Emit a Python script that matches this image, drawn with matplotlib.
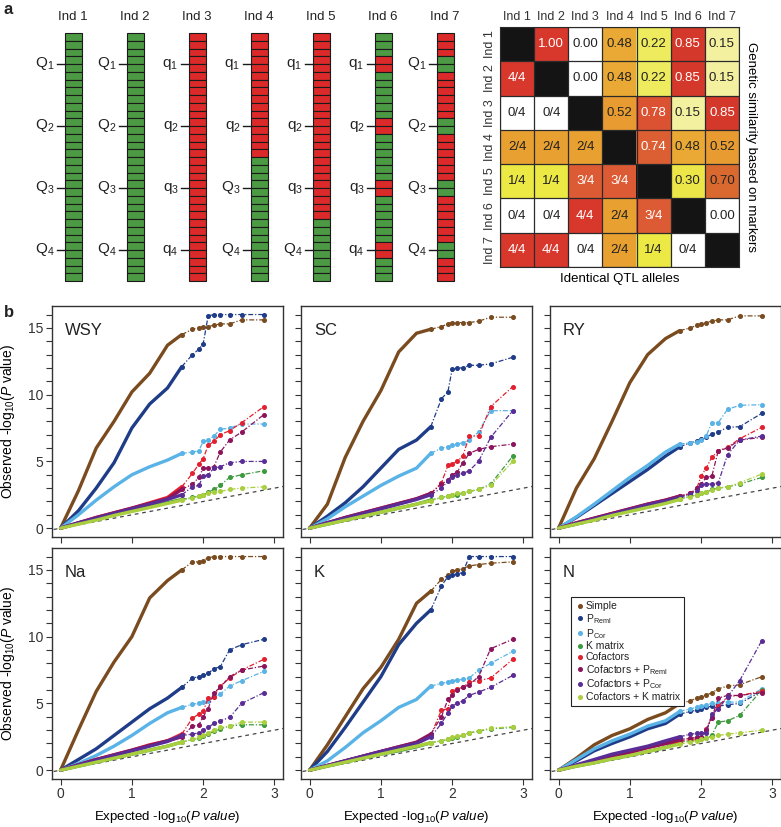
"""QTL allele illustration (a) and QQ plots of GWAS models per trait (b)."""

import matplotlib as mpl
import matplotlib.pyplot as plt
import numpy as np
from matplotlib.colors import LinearSegmentedColormap
from matplotlib.lines import Line2D

W, H = 781, 827

# ---- panel a: chromosomes ------------------------------------------------
INDIVIDUALS = ["Ind 1", "Ind 2", "Ind 3", "Ind 4", "Ind 5", "Ind 6", "Ind 7"]
# 32 marker segments per chromosome, G = green allele, R = red allele
CHROMOSOMES = [
    "G" * 32,
    "G" * 32,
    "R" * 32,
    "R" * 16 + "G" * 16,
    "R" * 24 + "G" * 8,
    "GGGRRGGG" * 4,
    "RRRGGRRR" * 4,
]
QTL_LABELS = [
    ["Q", "Q", "Q", "Q"],
    ["Q", "Q", "Q", "Q"],
    ["q", "q", "q", "q"],
    ["q", "q", "Q", "Q"],
    ["q", "q", "q", "Q"],
    ["q", "q", "q", "q"],
    ["Q", "Q", "Q", "Q"],
]
QTL_POS = [4, 12, 20, 28]

# similarity (upper triangle) and identical QTL alleles out of 4 (lower)
MARKER_SIM = [
    [None, 1.00, 0.00, 0.48, 0.22, 0.85, 0.15],
    [None, None, 0.00, 0.48, 0.22, 0.85, 0.15],
    [None, None, None, 0.52, 0.78, 0.15, 0.85],
    [None, None, None, None, 0.74, 0.48, 0.52],
    [None, None, None, None, None, 0.30, 0.70],
    [None, None, None, None, None, None, 0.00],
]
QTL_SHARED = [
    [4],
    [0, 0],
    [2, 2, 2],
    [1, 1, 3, 3],
    [0, 0, 4, 2, 3],
    [4, 4, 0, 2, 1, 0],
]

# ---- panel b: QQ plots ---------------------------------------------------
SERIES = ["Simple", "P$_{\\mathregular{Reml}}$", "P$_{\\mathregular{Cor}}$",
          "K matrix", "Cofactors", "Cofactors + P$_{\\mathregular{Reml}}$",
          "Cofactors + P$_{\\mathregular{Cor}}$", "Cofactors + K matrix"]
COLORS = ["#7a4b1f", "#1f3c88", "#5ab3e6", "#3d9a3d", "#e3202f",
          "#8c145c", "#5a2d96", "#a9cf3e"]

EXPECTED = [0, 0.25, 0.5, 0.75, 1.0, 1.25, 1.5, 1.7, 1.85, 1.94, 2.0, 2.07,
            2.15, 2.24, 2.37, 2.54, 2.85]

WSY = [
    [0, 2.8, 6.0, 8.0, 10.2, 11.6, 13.7, 14.5, 14.9, 15.0, 15.1, 15.1, 15.2, 15.3, 15.3, 15.6, 15.6],
    [0, 1.3, 3.0, 4.9, 7.5, 9.3, 10.5, 12.1, 13.0, 13.4, 13.8, 15.9, 16.0, 16.0, 16.0, 16.0, 16.0],
    [0, 1.0, 2.1, 3.1, 4.0, 4.6, 5.1, 5.6, 5.7, 5.8, 6.5, 6.6, 6.9, 7.4, 7.5, 7.8, 7.8],
    [0, 0.35, 0.7, 1.0, 1.3, 1.6, 1.9, 2.15, 2.3, 2.4, 2.5, 2.7, 2.9, 3.2, 3.8, 4.0, 4.3],
    [0, 0.4, 0.8, 1.15, 1.5, 1.9, 2.3, 3.1, 4.1, 4.8, 5.2, 6.2, 6.5, 7.0, 7.3, 7.9, 9.1],
    [0, 0.4, 0.8, 1.15, 1.5, 1.85, 2.2, 2.9, 3.3, 3.8, 4.5, 4.5, 4.6, 5.7, 6.6, 7.2, 8.5],
    [0, 0.4, 0.75, 1.1, 1.45, 1.8, 2.15, 2.5, 3.1, 3.2, 3.9, 4.0, 4.5, 4.6, 4.9, 5.0, 5.0],
    [0, 0.3, 0.6, 0.95, 1.25, 1.55, 1.85, 2.1, 2.25, 2.4, 2.5, 2.6, 2.7, 2.75, 2.9, 3.0, 3.1],
]
SC = [
    [0, 1.8, 5.3, 8.0, 10.3, 13.2, 14.6, 14.9, 15.1, 15.3, 15.4, 15.4, 15.4, 15.4, 15.5, 15.8, 15.8],
    [0, 0.9, 1.9, 3.1, 4.5, 5.9, 6.6, 7.6, 9.7, 10.2, 11.9, 12.0, 12.0, 12.2, 12.2, 12.3, 12.8],
    [0, 0.7, 1.6, 2.4, 3.2, 3.9, 4.5, 5.6, 6.0, 6.1, 6.2, 6.3, 6.4, 6.6, 7.2, 8.8, 8.8],
    [0, 0.3, 0.6, 0.9, 1.2, 1.5, 1.8, 2.1, 2.3, 2.4, 2.45, 2.5, 2.6, 2.75, 2.9, 3.3, 5.4],
    [0, 0.4, 0.8, 1.15, 1.5, 1.85, 2.2, 2.6, 3.4, 4.7, 4.8, 5.0, 5.4, 6.9, 6.9, 9.1, 10.6],
    [0, 0.4, 0.8, 1.15, 1.5, 1.85, 2.2, 2.6, 3.3, 3.6, 4.0, 4.2, 4.9, 5.6, 5.9, 6.1, 6.3],
    [0, 0.4, 0.75, 1.1, 1.45, 1.8, 2.15, 2.5, 3.0, 3.5, 3.8, 4.0, 4.1, 4.3, 5.0, 6.8, 8.8],
    [0, 0.3, 0.6, 0.9, 1.2, 1.5, 1.8, 2.05, 2.3, 2.4, 2.5, 2.6, 2.65, 2.75, 2.9, 3.2, 5.0],
]
RY = [
    [0, 3.0, 5.2, 8.0, 10.9, 13.0, 14.2, 14.8, 15.0, 15.2, 15.3, 15.4, 15.5, 15.6, 15.6, 15.9, 15.9],
    [0, 0.8, 1.7, 2.6, 3.5, 4.4, 5.4, 6.1, 6.4, 6.5, 6.7, 6.8, 7.05, 7.2, 7.55, 7.6, 8.6],
    [0, 0.85, 1.8, 2.8, 3.8, 4.7, 5.7, 6.3, 6.4, 6.45, 6.6, 6.9, 7.9, 7.9, 8.9, 9.2, 9.25],
    [0, 0.3, 0.65, 1.0, 1.3, 1.6, 1.9, 2.2, 2.4, 2.5, 2.6, 2.7, 2.9, 3.0, 3.1, 3.3, 3.8],
    [0, 0.4, 0.75, 1.1, 1.45, 1.8, 2.1, 2.4, 2.6, 3.0, 3.9, 4.5, 5.3, 5.8, 6.05, 6.7, 7.55],
    [0, 0.4, 0.75, 1.1, 1.45, 1.8, 2.1, 2.4, 2.6, 3.0, 3.3, 3.8, 3.9, 5.8, 6.0, 6.6, 6.8],
    [0, 0.35, 0.7, 1.05, 1.4, 1.75, 2.05, 2.3, 2.55, 2.8, 3.2, 3.3, 3.3, 3.4, 5.5, 6.6, 6.9],
    [0, 0.3, 0.6, 0.95, 1.25, 1.55, 1.85, 2.15, 2.35, 2.5, 2.6, 2.7, 2.85, 3.0, 3.1, 3.4, 4.05],
]
NA = [
    [0, 3.0, 5.9, 8.1, 10.0, 12.9, 14.2, 15.0, 15.6, 15.6, 15.7, 15.9, 16.0, 16.0, 16.0, 16.0, 16.0],
    [0, 0.8, 1.6, 2.6, 3.6, 4.6, 5.4, 6.2, 6.9, 7.0, 7.1, 7.25, 7.6, 7.75, 9.0, 9.4, 9.8],
    [0, 0.5, 1.1, 1.8, 2.6, 3.5, 4.3, 4.7, 4.95, 5.0, 5.1, 5.2, 5.5, 5.7, 6.3, 6.7, 7.4],
    [0, 0.3, 0.6, 0.9, 1.2, 1.5, 1.8, 2.1, 2.3, 2.4, 2.55, 2.7, 2.9, 3.1, 3.3, 3.4, 3.4],
    [0, 0.4, 0.8, 1.15, 1.5, 1.9, 2.2, 2.7, 3.9, 4.2, 4.4, 5.4, 5.5, 6.3, 6.9, 7.5, 8.3],
    [0, 0.4, 0.8, 1.15, 1.5, 1.85, 2.2, 2.5, 3.3, 3.4, 4.0, 4.6, 5.8, 6.2, 7.0, 7.5, 7.8],
    [0, 0.4, 0.75, 1.1, 1.45, 1.8, 2.15, 2.6, 2.7, 2.8, 3.0, 3.2, 3.5, 3.7, 3.95, 5.0, 5.8],
    [0, 0.3, 0.6, 0.9, 1.2, 1.5, 1.8, 2.1, 2.3, 2.45, 2.6, 2.75, 3.0, 3.2, 3.3, 3.6, 3.6],
]
K = [
    [0, 1.9, 4.0, 6.1, 7.7, 9.8, 12.5, 13.4, 14.3, 14.6, 14.9, 15.0, 15.1, 15.3, 15.4, 15.5, 15.6],
    [0, 1.4, 3.2, 5.1, 7.0, 9.4, 11.0, 12.0, 13.8, 14.5, 14.6, 14.7, 14.8, 16.0, 16.0, 16.0, 16.0],
    [0, 0.7, 1.7, 2.8, 3.7, 4.7, 5.3, 6.3, 6.5, 6.6, 6.7, 6.75, 6.8, 6.9, 7.5, 8.0, 8.9],
    [0, 0.3, 0.6, 0.9, 1.2, 1.45, 1.75, 2.05, 2.2, 2.3, 2.4, 2.5, 2.6, 2.8, 2.9, 3.1, 3.2],
    [0, 0.35, 0.7, 1.05, 1.4, 1.75, 2.05, 2.6, 4.5, 4.6, 5.9, 6.1, 6.2, 6.6, 6.7, 6.9, 8.3],
    [0, 0.35, 0.7, 1.05, 1.4, 1.75, 2.1, 2.7, 4.0, 5.3, 5.6, 6.0, 6.2, 6.4, 7.0, 9.1, 9.8],
    [0, 0.35, 0.7, 1.05, 1.4, 1.7, 2.0, 2.5, 3.5, 4.3, 4.8, 5.0, 5.2, 5.6, 5.85, 6.2, 7.1],
    [0, 0.3, 0.6, 0.9, 1.2, 1.5, 1.8, 2.05, 2.2, 2.3, 2.45, 2.55, 2.65, 2.8, 2.95, 3.15, 3.25],
]
N = [
    [0, 0.9, 1.9, 2.6, 3.1, 3.8, 4.3, 5.0, 5.2, 5.4, 5.5, 5.6, 5.8, 6.1, 6.3, 6.4, 7.0],
    [0, 0.7, 1.45, 2.0, 2.5, 3.1, 3.5, 4.2, 4.4, 4.5, 4.6, 4.7, 4.8, 4.8, 4.9, 5.0, 5.9],
    [0, 0.8, 1.6, 2.2, 2.7, 3.3, 3.7, 4.4, 4.6, 4.7, 4.8, 4.9, 5.0, 5.0, 5.1, 5.1, 6.1],
    [0, 0.3, 0.55, 0.85, 1.1, 1.4, 1.7, 2.1, 2.2, 2.3, 2.35, 2.4, 2.6, 3.6, 3.7, 4.1, 6.0],
    [0, 0.35, 0.7, 1.05, 1.35, 1.7, 2.0, 2.2, 2.3, 2.35, 2.4, 3.1, 4.0, 4.8, 5.5, 5.6, 5.9],
    [0, 0.35, 0.7, 1.05, 1.35, 1.7, 2.0, 2.3, 2.4, 2.45, 2.5, 3.0, 3.9, 5.4, 5.6, 5.6, 5.8],
    [0, 0.4, 0.8, 1.2, 1.5, 1.8, 2.2, 2.5, 2.7, 2.75, 2.8, 2.8, 4.2, 4.6, 5.5, 6.7, 9.7],
    [0, 0.3, 0.55, 0.85, 1.1, 1.4, 1.7, 1.95, 2.1, 2.2, 2.3, 2.4, 2.5, 2.6, 2.7, 2.8, 3.0],
]
PANELS = [("WSY", WSY), ("SC", SC), ("RY", RY), ("Na", NA), ("K", K), ("N", N)]

GREEN = "#4c9a44"
RED = "#dc2a2a"
INK = "#222222"

mpl.rcParams.update({
    "font.family": ["Liberation Sans", "DejaVu Sans"],
    "mathtext.fontset": "custom",
    "mathtext.rm": "Liberation Sans",
    "mathtext.it": "Liberation Sans:italic",
    "text.color": INK,
    "axes.edgecolor": "#333333",
    "xtick.color": "#333333",
    "ytick.color": "#333333",
})

fig = plt.figure(figsize=(W / 100, H / 100), dpi=100)


def px_axes(left, top, width, height):
    return fig.add_axes([left / W, 1 - (top + height) / H, width / W, height / H])


# ---- a: chromosome bars --------------------------------------------------
ax = px_axes(0, 0, 470, 300)
ax.set_xlim(-73 / 62, (470 - 73) / 62)
ax.set_ylim((300 - 33) / 7.75, -33 / 7.75)
ax.axis("off")
half = 8.5 / 62
for i, (name, chrom, labels) in enumerate(zip(INDIVIDUALS, CHROMOSOMES, QTL_LABELS)):
    cols = [GREEN if c == "G" else RED for c in chrom]
    ax.bar(np.full(len(chrom), i), 1, bottom=np.arange(len(chrom)), width=2 * half,
           color=cols, edgecolor="#1a1a1a", linewidth=0.8, align="center")
    ax.text(i, -2.05, name, ha="center", va="center", fontsize=9.5)
    for k, (lab, pos) in enumerate(zip(labels, QTL_POS)):
        ax.plot([i - half - 8 / 62, i - half], [pos, pos], color="#1a1a1a", lw=1.0)
        ax.text(i - half - 10 / 62, pos, f"{lab}$_{{{k + 1}}}$", ha="right",
                va="center", fontsize=11)

# ---- a: similarity matrix ------------------------------------------------
sim_cmap = LinearSegmentedColormap.from_list("sim", [
    (0.0, "#ffffff"), (0.1, "#f7f4c4"), (0.15, "#f3f0a0"), (0.25, "#ece944"),
    (0.32, "#eee64a"), (0.5, "#e9a132"), (0.7, "#da6a30"), (0.76, "#dd5a35"),
    (0.85, "#d4392b"), (1.0, "#d8382c")])
n = len(INDIVIDUALS)
vals = np.full((n, n), np.nan)
texts = {}
for r, row in enumerate(MARKER_SIM):
    for c, v in enumerate(row):
        if v is not None:
            vals[r, c] = v
            texts[(r, c)] = f"{v:.2f}"
for r, row in enumerate(QTL_SHARED):
    for c, v in enumerate(row):
        vals[r + 1, c] = v / 4
        texts[(r + 1, c)] = f"{v}/4"
rgba = sim_cmap(np.nan_to_num(vals))
for d in range(n):
    rgba[d, d] = (0.08, 0.08, 0.08, 1)

axm = px_axes(500, 27, 239, 240)
axm.imshow(rgba, aspect="auto", interpolation="nearest",
           extent=(-0.5, n - 0.5, n - 0.5, -0.5))
for k in range(n + 1):
    axm.axhline(k - 0.5, color="#2a2a2a", lw=0.9)
    axm.axvline(k - 0.5, color="#2a2a2a", lw=0.9)
for (r, c), s in texts.items():
    axm.text(c, r, s, ha="center", va="center", fontsize=9.5,
             color="white" if vals[r, c] >= 0.72 else INK)
axm.set_xticks(range(n), INDIVIDUALS, fontsize=9)
axm.set_yticks(range(n), INDIVIDUALS, fontsize=9, rotation=90, va="center")
axm.xaxis.tick_top()
axm.tick_params(length=0, pad=3)
axm.set_xlabel("Identical QTL alleles", fontsize=9.5, labelpad=4)
axm.yaxis.set_label_position("right")
axm.set_ylabel("Genetic similarity based on markers", fontsize=9.5,
               rotation=270, labelpad=13)
for s in axm.spines.values():
    s.set_color("#2a2a2a")

# ---- b: QQ plots ---------------------------------------------------------
x = np.array(EXPECTED)
body = x <= 1.7
tail = x >= 1.7
for idx, (title, curves) in enumerate(PANELS):
    row, col = divmod(idx, 3)
    axq = px_axes(52 + 249 * col, 306 + 242 * row, 231, 231)
    axq.set_xlim(-0.12, 3.12)
    axq.set_ylim(-0.66, 16.64)
    axq.plot([-0.2, 3.3], [-0.2, 3.3], color="#444444", lw=0.9, ls=(0, (3, 3)))
    for ys, colr in zip(curves, COLORS):
        y = np.array(ys)
        axq.plot(x[body], y[body], color=colr, lw=2.4, solid_capstyle="round")
        axq.plot(x[tail], y[tail], color=colr, lw=0.9, ls=(0, (4, 1.5, 1, 1.5)),
                 marker="o", ms=2.6, mec=colr, mfc=colr)
    axq.text(0.056, 0.895, title, transform=axq.transAxes, fontsize=12,
             ha="left", va="center")
    axq.set_xticks([0, 1, 2, 3])
    axq.set_yticks(range(17))
    if col == 0:
        axq.set_yticklabels([str(v) if v % 5 == 0 else "" for v in range(17)])
        axq.set_ylabel("Observed -log$_{10}$($\\it{P}$ value)", fontsize=10)
        axq.yaxis.set_label_coords(-0.15, 0.5)
    else:
        axq.set_yticklabels([])
    if row == 1:
        axq.set_xlabel("Expected -log$_{10}$($\\it{P\\ value}$)", fontsize=9.5)
        axq.xaxis.set_label_coords(0.5, -0.13)
    else:
        axq.set_xticklabels([])
    axq.tick_params(direction="out", length=4, width=0.8, labelsize=10, pad=2)
    for s in axq.spines.values():
        s.set_linewidth(1.0)
    if title == "N":
        handles = [Line2D([], [], ls="none", marker="o", ms=2.6, color=c)
                   for c in COLORS]
        leg = axq.legend(handles, SERIES, loc="upper left",
                         bbox_to_anchor=(0.07, 0.81), fontsize=7.5,
                         labelspacing=0.08, handletextpad=0.2, handlelength=0.8,
                         borderpad=0.4, fancybox=False, framealpha=1)
        leg.get_frame().set_edgecolor("#222222")
        leg.get_frame().set_linewidth(0.8)

fig.text(4 / W, 1 - 9 / H, "a", fontsize=12, fontweight="bold", va="center")
fig.text(4 / W, 1 - 312 / H, "b", fontsize=12, fontweight="bold", va="center")

fig.savefig("out.png", dpi=100)
